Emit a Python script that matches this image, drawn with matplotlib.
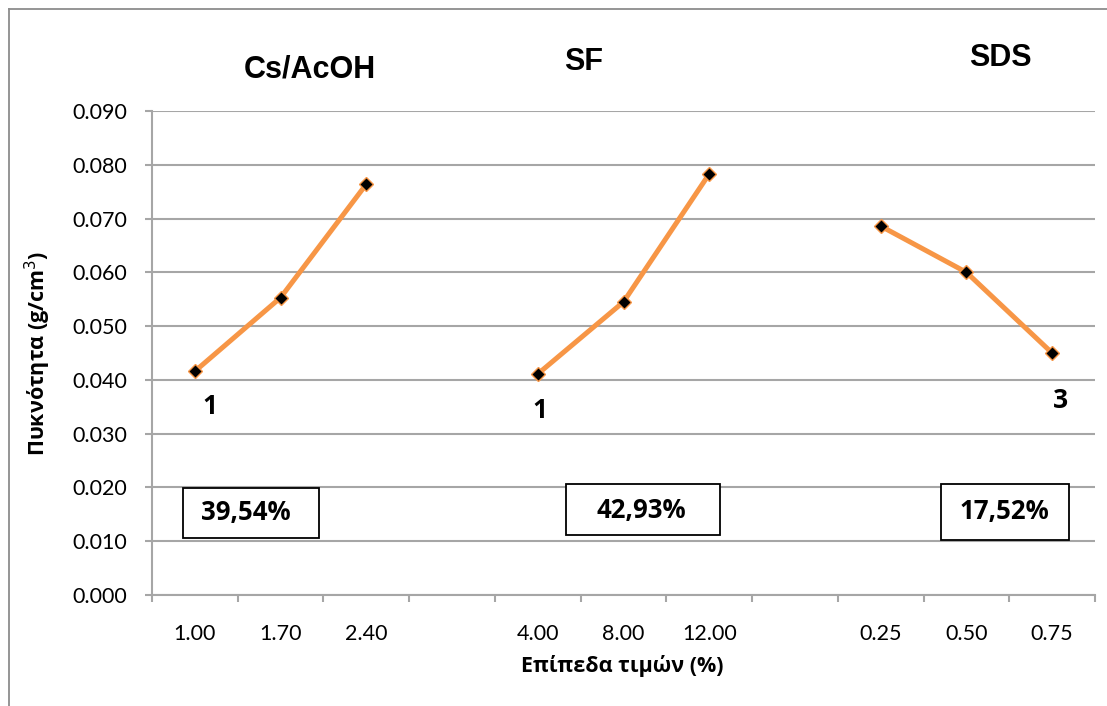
import matplotlib
matplotlib.use("Agg")
import matplotlib.pyplot as plt
from matplotlib.lines import Line2D
from matplotlib.patches import Rectangle

# ---- data ----
groups = ["Cs/AcOH", "SF", "SDS"]
level_labels = [["1.00", "1.70", "2.40"], ["4.00", "8.00", "12.00"], ["0.25", "0.50", "0.75"]]
density = [[0.0416, 0.0553, 0.0764], [0.0411, 0.0545, 0.0783], [0.0686, 0.0600, 0.0450]]
best_level = ["1", "1", "3"]
contribution = ["39,54%", "42,93%", "17,52%"]
yticks = [0.000, 0.010, 0.020, 0.030, 0.040, 0.050, 0.060, 0.070, 0.080, 0.090]

ORANGE = "#F79646"
GRID = "#A6A6A6"

fig = plt.figure(figsize=(11.07, 7.06), dpi=100)
ax = fig.add_axes([152/1107, 1-595/706, (1095-152)/1107, (595-111)/706])

# outer chart border (top & left visible)
fig.add_artist(Line2D([9/1107, 9/1107], [0, 1-9/706], transform=fig.transFigure, color="#8C8C8C", lw=1.3))
fig.add_artist(Line2D([9/1107, 1], [1-9/706, 1-9/706], transform=fig.transFigure, color="#8C8C8C", lw=1.3))

positions = []
labels = []
for g in range(3):
    xs = [g*4 + i for i in range(3)]
    positions += xs
    labels += level_labels[g]
    ax.plot(xs, density[g], color=ORANGE, lw=3.6, marker="D", markersize=7.5,
            markerfacecolor="black", markeredgecolor=ORANGE, markeredgewidth=1.0, zorder=3,
            solid_capstyle="butt")

ax.set_xlim(-0.5, 10.5)
ax.set_ylim(0, 0.090)
ax.set_yticks(yticks)
ax.set_yticklabels([f"{v:.3f}" for v in yticks], fontfamily="Lato", fontsize=15.5)
ax.yaxis.grid(True, color=GRID, lw=1.5)
ax.set_axisbelow(True)

ax.set_xticks([x - 0.5 for x in range(12)])
ax.set_xticklabels([])
ax.set_xticks(positions, minor=True)
ax.set_xticklabels(labels, minor=True, fontfamily="Lato", fontsize=15.5)
ax.tick_params(axis="x", which="major", length=5, width=1.5, color=GRID, direction="out")
ax.tick_params(axis="x", which="minor", length=0, pad=21)
ax.tick_params(axis="y", length=5, width=1.5, color=GRID, pad=13)

for s in ["top", "right"]:
    ax.spines[s].set_visible(False)
for s in ["left", "bottom"]:
    ax.spines[s].set_color(GRID)
    ax.spines[s].set_linewidth(1.5)

ax.set_ylabel("Πυκνότητα (g/cm$^3$)", fontfamily="Open Sans", fontweight="bold", fontsize=15.5)
ax.yaxis.set_label_coords((53-152)/943, 0.5)
ax.set_xlabel("Επίπεδα τιμών (%)", fontfamily="Open Sans", fontweight="bold", fontsize=15.5)
ax.xaxis.set_label_coords((622-152)/943, (595-655)/484)

# group titles (figure coords from pixels)
title_pos = [(310, 70), (584, 62), (1000, 58)]
for t, (px, py) in zip(groups, title_pos):
    fig.text(px/1107, 1-py/706, t, ha="center", va="center", fontfamily="Liberation Sans",
             fontweight="bold", fontsize=22)

# best-level labels
lvl_pos = [(0.18, 0.0350), (4.03, 0.0344), (10.1, 0.0362)]
for t, (x, y) in zip(best_level, lvl_pos):
    ax.text(x, y, t, ha="center", va="center", fontfamily="Open Sans", fontweight="bold", fontsize=19)

# contribution boxes: (x0, x1, y0, y1) in slot / value units, and text centre
box_extent = [(-0.14, 1.447, 0.0106, 0.0199), (4.327, 6.126, 0.0112, 0.0206), (8.705, 10.198, 0.0102, 0.0206)]
text_pos = [(0.60, 0.0153), (5.21, 0.0158), (9.44, 0.0155)]
for t, (x0, x1, y0, y1), (tx, ty) in zip(contribution, box_extent, text_pos):
    ax.add_patch(Rectangle((x0, y0), x1 - x0, y1 - y0, facecolor="white", edgecolor="black",
                           lw=1.3, zorder=4))
    ax.text(tx, ty, t, ha="center", va="center", fontfamily="Open Sans", fontweight="bold",
            fontsize=18.5, zorder=5)

fig.savefig("out.png", dpi=100)
